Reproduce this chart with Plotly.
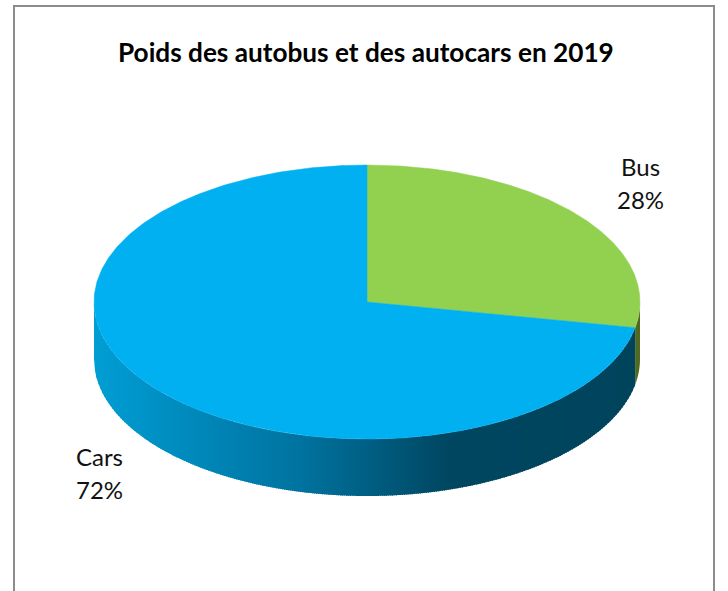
import numpy as np
import plotly.graph_objects as go

title = "Poids des autobus et des autocars en 2019"
categories = ["Bus", "Cars"]
percent = [28, 72]
top_colors = ["#92D050", "#00B0F0"]

# Pie geometry in page pixels
CX, CY, RX, RY, DEPTH = 367, 302, 273, 137, 57


def ex(t):
    return CX + RX * np.sin(t)


def ey(t):
    return CY - RY * np.cos(t)


fractions = np.array(percent) / sum(percent)
bounds = np.concatenate([[0], np.cumsum(fractions)]) * 2 * np.pi

fig = go.Figure()

# Frame (the bottom edge falls outside the picture)
fig.add_shape(type="rect", x0=14, x1=714, y0=6, y1=620,
              line=dict(color="#8C8C8C", width=2), fillcolor="white", layer="below")

# Wall gradient colour stops along x
stops_x = [94, 200, 300, 390, 450, 640]
stops_g = [158, 135, 115, 88, 70, 68]
stops_b = [212, 185, 160, 122, 96, 92]


def lower_y(x):
    u = np.clip((np.asarray(x, dtype=float) - CX) / RX, -1, 1)
    return CY + RY * np.sqrt(1 - u * u)


# Bus wall visible at the right-hand edge
t = np.linspace(np.pi / 2, bounds[1], 12)
fig.add_trace(go.Scatter(
    x=np.concatenate([ex(t), ex(t[::-1])]),
    y=np.concatenate([ey(t), ey(t[::-1]) + DEPTH]),
    mode="none", fill="toself", fillcolor="#4F6A20", hoverinfo="skip"))

# Wall of the Cars slice: vertical strips, painted left to right, each overlapping the next
x_end = ex(bounds[1])
for x0 in np.arange(CX - RX, x_end, 2):
    x1 = min(x0 + 3, x_end)
    xs = np.linspace(x0, x1, 4)
    xm = (x0 + x1) / 2
    g = np.interp(xm, stops_x, stops_g)
    bl = np.interp(xm, stops_x, stops_b)
    col = f"rgb(0,{g:.0f},{bl:.0f})"
    fig.add_trace(go.Scatter(
        x=np.concatenate([xs, xs[::-1]]),
        y=np.concatenate([lower_y(xs), lower_y(xs[::-1]) + DEPTH]),
        mode="none", fill="toself", fillcolor=col, hoverinfo="skip"))

# Top faces, one per category
for i, (name, col) in enumerate(zip(categories, top_colors)):
    t = np.linspace(bounds[i], bounds[i + 1], 400)
    xs = np.concatenate([[CX], ex(t), [CX]])
    ys = np.concatenate([[CY], ey(t), [CY]])
    fig.add_trace(go.Scatter(x=xs, y=ys, mode="lines", fill="toself", fillcolor=col,
                             line=dict(color=col, width=0.5), name=name,
                             text=f"{name}: {percent[i]}%", hoverinfo="text"))

FONT = "Lato, 'Open Sans', sans-serif"
label_x = [640, 99]
label_y = [[166, 199], [456, 489]]
for i, name in enumerate(categories):
    for txt, y in zip([name, f"{percent[i]}%"], label_y[i]):
        fig.add_annotation(x=label_x[i], y=y, text=txt, showarrow=False,
                           font=dict(family=FONT, size=24, color="#111111"))

fig.add_annotation(x=366, y=52, text=f"<b>{title}</b>", showarrow=False,
                   font=dict(family=FONT, size=26.2, color="#000000"))

fig.update_layout(
    width=728, height=591, margin=dict(l=0, r=0, t=0, b=0),
    paper_bgcolor="white", plot_bgcolor="white", showlegend=False,
    xaxis=dict(range=[0, 728], visible=False, fixedrange=True),
    yaxis=dict(range=[591, 0], visible=False, fixedrange=True),
)
fig.write_html("out.html", config={"displayModeBar": False},
               post_script="document.body.style.margin='0';document.body.style.overflow='hidden';")
